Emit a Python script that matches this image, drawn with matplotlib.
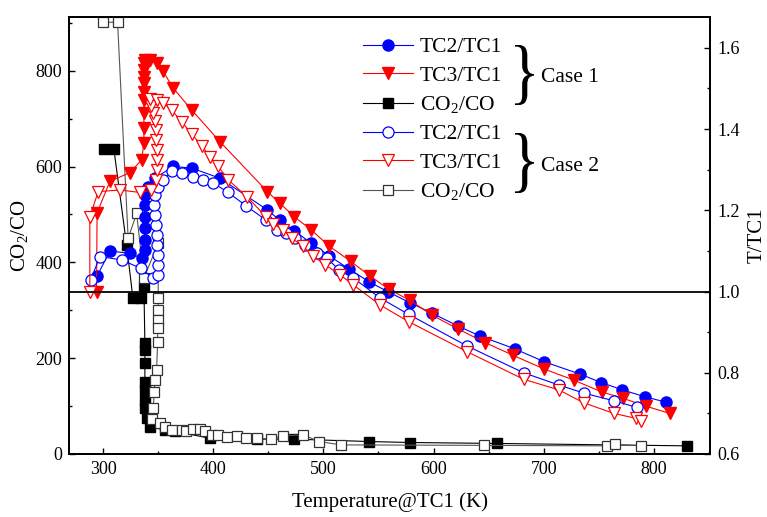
import matplotlib
matplotlib.use("Agg")
import matplotlib.pyplot as plt
import matplotlib.transforms as mtransforms
from matplotlib.lines import Line2D
from matplotlib.textpath import TextPath
from matplotlib.patches import PathPatch
from matplotlib.font_manager import FontProperties
from matplotlib.ticker import MultipleLocator

plt.rcParams['font.family'] = ['Liberation Serif', 'DejaVu Serif']
plt.rcParams['mathtext.fontset'] = 'custom'
plt.rcParams['mathtext.rm'] = 'Liberation Serif'
plt.rcParams['mathtext.it'] = 'Liberation Serif:italic'

# Case 1, TC2/TC1 (filled circles)
t_tc2_c1 = [294.5, 306.1, 324.3, 334.9, 337.9, 337.9, 337.9, 337.9, 337.9, 337.9,
            340.9, 347.0, 363.6, 380.4, 406.1, 449.1, 460.6, 473.6, 488.8, 505.2,
            523.6, 541.5, 558.2, 578.2, 598.5, 622.2, 641.8, 673.6, 700.6, 732.7,
            752.2, 771.3, 791.8, 810.6]
r_tc2_c1 = [1.038, 1.100, 1.094, 1.082, 1.102, 1.127, 1.156, 1.184, 1.213, 1.238,
            1.258, 1.279, 1.308, 1.304, 1.279, 1.201, 1.175, 1.150, 1.119, 1.088,
            1.055, 1.024, 1.000, 0.973, 0.947, 0.915, 0.891, 0.859, 0.827, 0.797,
            0.776, 0.758, 0.741, 0.728]

# Case 1, TC3/TC1 (filled triangles)
t_tc3_c1 = [294.0, 294.5, 306.1, 324.3, 334.9, 337.0, 337.0, 337.0, 337.0, 337.0,
            337.0, 337.0, 337.0, 337.0, 337.9, 342.5, 348.5, 354.5, 363.6, 380.4,
            406.1, 449.1, 460.6, 473.6, 488.8, 505.2, 524.9, 542.5, 559.1, 578.8,
            598.5, 622.2, 647.0, 672.2, 700.6, 727.3, 752.5, 772.2, 792.5, 814.5]
r_tc3_c1 = [1.000, 1.194, 1.271, 1.293, 1.324, 1.366, 1.403, 1.440, 1.472, 1.492,
            1.514, 1.529, 1.546, 1.563, 1.571, 1.571, 1.562, 1.542, 1.501, 1.447,
            1.369, 1.246, 1.217, 1.184, 1.152, 1.112, 1.074, 1.038, 1.006, 0.978,
            0.942, 0.908, 0.874, 0.843, 0.809, 0.782, 0.753, 0.737, 0.718, 0.700]

# Case 1, CO2/CO (filled squares)
t_co_c1 = [300.6, 309.7, 321.3, 327.0, 334.3, 337.0, 337.9, 337.9, 337.9, 337.9,
           337.9, 337.9, 337.9, 339.5, 342.5, 356.2, 365.2, 397.0, 439.5, 473.6,
           541.8, 578.8, 657.6, 829.7]
v_co_c1 = [637, 637, 436, 326, 326, 349, 231, 217, 189, 151,
           134, 113, 96, 75, 57, 50, 47, 33, 31, 31,
           26, 24, 22, 17]

# Case 2, TC2/TC1 (open circles)
t_tc2_c2 = [288.8, 297.0, 316.7, 334.3, 345.2, 349.7, 349.7, 349.5, 348.8, 348.5,
            347.9, 347.0, 346.4, 347.0, 349.7, 354.3, 362.2, 371.3, 381.8, 390.9,
            400.0, 413.6, 429.7, 447.9, 457.6, 466.1, 474.3, 483.4, 494.0, 503.1,
            514.5, 527.3, 551.5, 577.3, 630.4, 681.8, 713.6, 736.4, 763.6, 784.3]
r_tc2_c2 = [1.029, 1.086, 1.078, 1.057, 1.033, 1.041, 1.066, 1.090, 1.115, 1.139,
            1.164, 1.189, 1.213, 1.238, 1.258, 1.275, 1.297, 1.291, 1.283, 1.275,
            1.267, 1.244, 1.211, 1.176, 1.152, 1.144, 1.131, 1.115, 1.094, 1.082,
            1.053, 1.033, 0.984, 0.944, 0.866, 0.800, 0.770, 0.750, 0.731, 0.715]

# Case 2, TC3/TC1 (open triangles)
t_tc3_c2 = [287.9, 287.9, 295.5, 315.2, 333.4, 343.4, 347.9, 348.8, 348.8, 348.8,
            348.4, 347.9, 347.0, 345.2, 343.4, 342.5, 348.9, 354.6, 362.2, 371.3,
            380.4, 389.5, 397.0, 404.3, 413.6, 430.4, 447.9, 454.5, 463.6, 471.3,
            481.8, 490.4, 501.5, 515.2, 527.3, 551.5, 577.3, 630.4, 681.8, 713.6,
            736.4, 763.6, 783.4, 787.9]
r_tc3_c2 = [1.000, 1.184, 1.246, 1.250, 1.244, 1.250, 1.275, 1.300, 1.324, 1.349,
            1.373, 1.398, 1.420, 1.440, 1.457, 1.474, 1.472, 1.464, 1.447, 1.418,
            1.388, 1.359, 1.332, 1.309, 1.275, 1.234, 1.184, 1.166, 1.152, 1.131,
            1.111, 1.088, 1.066, 1.041, 1.016, 0.967, 0.926, 0.852, 0.784, 0.758,
            0.726, 0.700, 0.688, 0.682]

# Case 2, CO2/CO (open squares)
t_co_c2 = [300.0, 313.1, 322.7, 330.4, 337.0, 350.0, 350.0, 350.0, 349.5, 349.5,
           349.5, 348.5, 347.0, 346.4, 345.5, 344.5, 351.5, 356.1, 362.2, 371.3,
           375.2, 381.3, 387.9, 392.5, 398.5, 404.5, 412.2, 421.3, 429.7, 439.5,
           452.2, 463.1, 481.3, 496.4, 515.8, 646.1, 757.6, 764.3, 788.5]
v_co_c2 = [901, 901, 450, 502, 367, 440, 325, 301, 280, 262,
           234, 175, 154, 130, 95, 74, 64, 57, 50, 50,
           47, 52, 52, 47, 40, 40, 35, 38, 33, 33,
           31, 38, 40, 26, 19, 18, 17, 20, 17]

labels = ['TC2/TC1', 'TC3/TC1', 'CO$_2$/CO', 'TC2/TC1', 'TC3/TC1', 'CO$_2$/CO']
case_names = ['Case 1', 'Case 2']

W, H = 767, 517
fig = plt.figure(figsize=(W / 100, H / 100), dpi=100)
ax = fig.add_axes([69 / W, (H - 454) / H, (710 - 69) / W, (454 - 17) / H])
ax2 = ax.twinx()

lw = 0.8
ax.plot(t_co_c1, v_co_c1, color='black', lw=lw, marker='s', ms=7,
        mfc='black', mec='black')
ax.plot(t_co_c2, v_co_c2, color='#555555', lw=lw, marker='s', ms=7,
        mfc='white', mec='#333333', mew=0.9)

ax2.plot(t_tc2_c1, r_tc2_c1, color='blue', lw=lw, marker='o', ms=8,
         mfc='blue', mec='blue')
ax2.plot(t_tc3_c1, r_tc3_c1, color='red', lw=lw, marker='v', ms=9,
         mfc='red', mec='red')
ax2.plot(t_tc2_c2, r_tc2_c2, color='blue', lw=lw, marker='o', ms=8,
         mfc='white', mec='blue', mew=0.9)
ax2.plot(t_tc3_c2, r_tc3_c2, color='red', lw=lw, marker='v', ms=9,
         mfc='white', mec='red', mew=0.9)
ax2.axhline(1.0, color='black', lw=1.3)

ax.set_xlim(269, 851)
ax.set_ylim(0, 912)
ax2.set_ylim(0.6, 1.676)

ax.xaxis.set_major_locator(MultipleLocator(100))
ax.xaxis.set_minor_locator(MultipleLocator(50))
ax.yaxis.set_major_locator(MultipleLocator(200))
ax.yaxis.set_minor_locator(MultipleLocator(100))
ax2.yaxis.set_major_locator(MultipleLocator(0.2))
ax2.yaxis.set_minor_locator(MultipleLocator(0.1))
ax2.yaxis.set_major_formatter(plt.FormatStrFormatter('%.1f'))

for a in (ax, ax2):
    a.tick_params(which='major', direction='in', length=4, width=1.0,
                  labelsize=13, pad=5)
    a.tick_params(which='minor', direction='in', length=2.5, width=1.0)
    for s in a.spines.values():
        s.set_linewidth(1.3)
ax.tick_params(axis='y', right=False, which='both')
ax.tick_params(axis='x', top=False, which='both')

ax.set_xlabel('Temperature@TC1 (K)', fontsize=15, labelpad=10)
ax.set_ylabel('CO$_2$/CO', fontsize=15, labelpad=4)
ax2.set_ylabel('T/TC1', fontsize=15, labelpad=6)

handles = [
    Line2D([], [], color='blue', lw=lw, marker='o', ms=8, mfc='blue', mec='blue'),
    Line2D([], [], color='red', lw=lw, marker='v', ms=9, mfc='red', mec='red'),
    Line2D([], [], color='black', lw=lw, marker='s', ms=7, mfc='black', mec='black'),
    Line2D([], [], color='blue', lw=lw, marker='o', ms=8, mfc='white', mec='blue', mew=0.9),
    Line2D([], [], color='red', lw=lw, marker='v', ms=9, mfc='white', mec='red', mew=0.9),
    Line2D([], [], color='#555555', lw=lw, marker='s', ms=7, mfc='white', mec='#333333', mew=0.9),
]
ax2.legend(handles, labels, loc='upper left', bbox_to_anchor=(363 / W, 1 - 37 / H),
           bbox_transform=fig.transFigure, frameon=False, fontsize=15.5,
           handlelength=2.3, handletextpad=0.35, labelspacing=0.4, borderpad=0,
           borderaxespad=0)

# curly braces grouping the two cases
brace = TextPath((0, 0), '}', size=1, prop=FontProperties(family='Liberation Serif'))
bb = brace.get_extents()
for (ytop, ybot), name in zip([(45, 105), (133, 193)], case_names):
    x0, x1 = 515, 534
    tr = (mtransforms.Affine2D()
          .translate(-bb.x0, -bb.y0)
          .scale((x1 - x0) / bb.width, (ybot - ytop) / bb.height)
          .translate(x0, H - ybot))
    fig.add_artist(PathPatch(tr.transform_path(brace), facecolor='black',
                             edgecolor='none', transform=mtransforms.IdentityTransform()))
    fig.text(541 / W, 1 - ((ytop + ybot) / 2 + 3) / H, name, fontsize=15.5,
             va='center', ha='left')

fig.savefig('out.png', dpi=100)
